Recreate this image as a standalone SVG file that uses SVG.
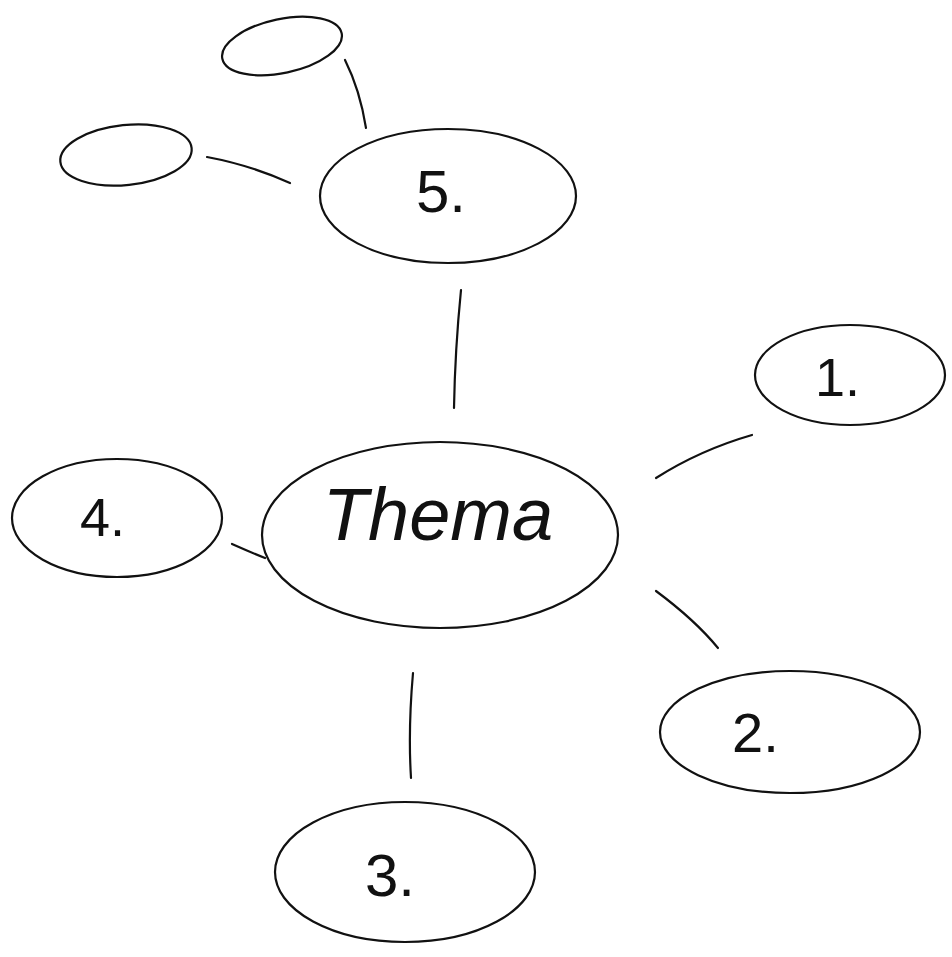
<svg xmlns="http://www.w3.org/2000/svg" width="952" height="957" viewBox="0 0 952 957">
<style>
.n{fill:none;stroke:#111;stroke-width:2.2;stroke-linecap:round}
.c{fill:none;stroke:#111;stroke-width:2.2;stroke-linecap:round}
.t{font-family:"Liberation Sans","DejaVu Sans",sans-serif;fill:#111;font-weight:300}
</style>
<rect width="952" height="957" fill="#fff"/>
<g id="connectors">
<path class="c" d="M345,60 Q360,90 366,128"/>
<path class="c" d="M207,157 Q250,165 290,183"/>
<path class="c" d="M461,290 Q455,350 454,408"/>
<path class="c" d="M656,478 Q700,450 752,435"/>
<path class="c" d="M232,544 Q250,552 265,558"/>
<path class="c" d="M656,591 Q695,620 718,648"/>
<path class="c" d="M413,673 Q408,730 411,778"/>
</g>
<g id="node-a"><ellipse class="n" cx="282" cy="46" rx="61" ry="27" transform="rotate(-12 282 46)"/></g>
<g id="node-b"><ellipse class="n" cx="126" cy="155" rx="66" ry="30" transform="rotate(-6 126 155)"/></g>
<g id="node-5"><ellipse class="n" cx="448" cy="196" rx="128" ry="67"/><text class="t" x="416" y="212" font-size="60">5.</text></g>
<g id="node-thema"><ellipse class="n" cx="440" cy="535" rx="178" ry="93"/><text class="t" x="438" y="540" font-size="74" text-anchor="middle" font-style="italic">Thema</text></g>
<g id="node-1"><ellipse class="n" cx="850" cy="375" rx="95" ry="50"/><text class="t" x="815" y="396" font-size="54">1.</text></g>
<g id="node-4"><ellipse class="n" cx="117" cy="518" rx="105" ry="59"/><text class="t" x="80" y="536" font-size="54">4.</text></g>
<g id="node-2"><ellipse class="n" cx="790" cy="732" rx="130" ry="61"/><text class="t" x="732" y="752" font-size="56">2.</text></g>
<g id="node-3"><ellipse class="n" cx="405" cy="872" rx="130" ry="70"/><text class="t" x="365" y="896" font-size="60">3.</text></g>
</svg>
